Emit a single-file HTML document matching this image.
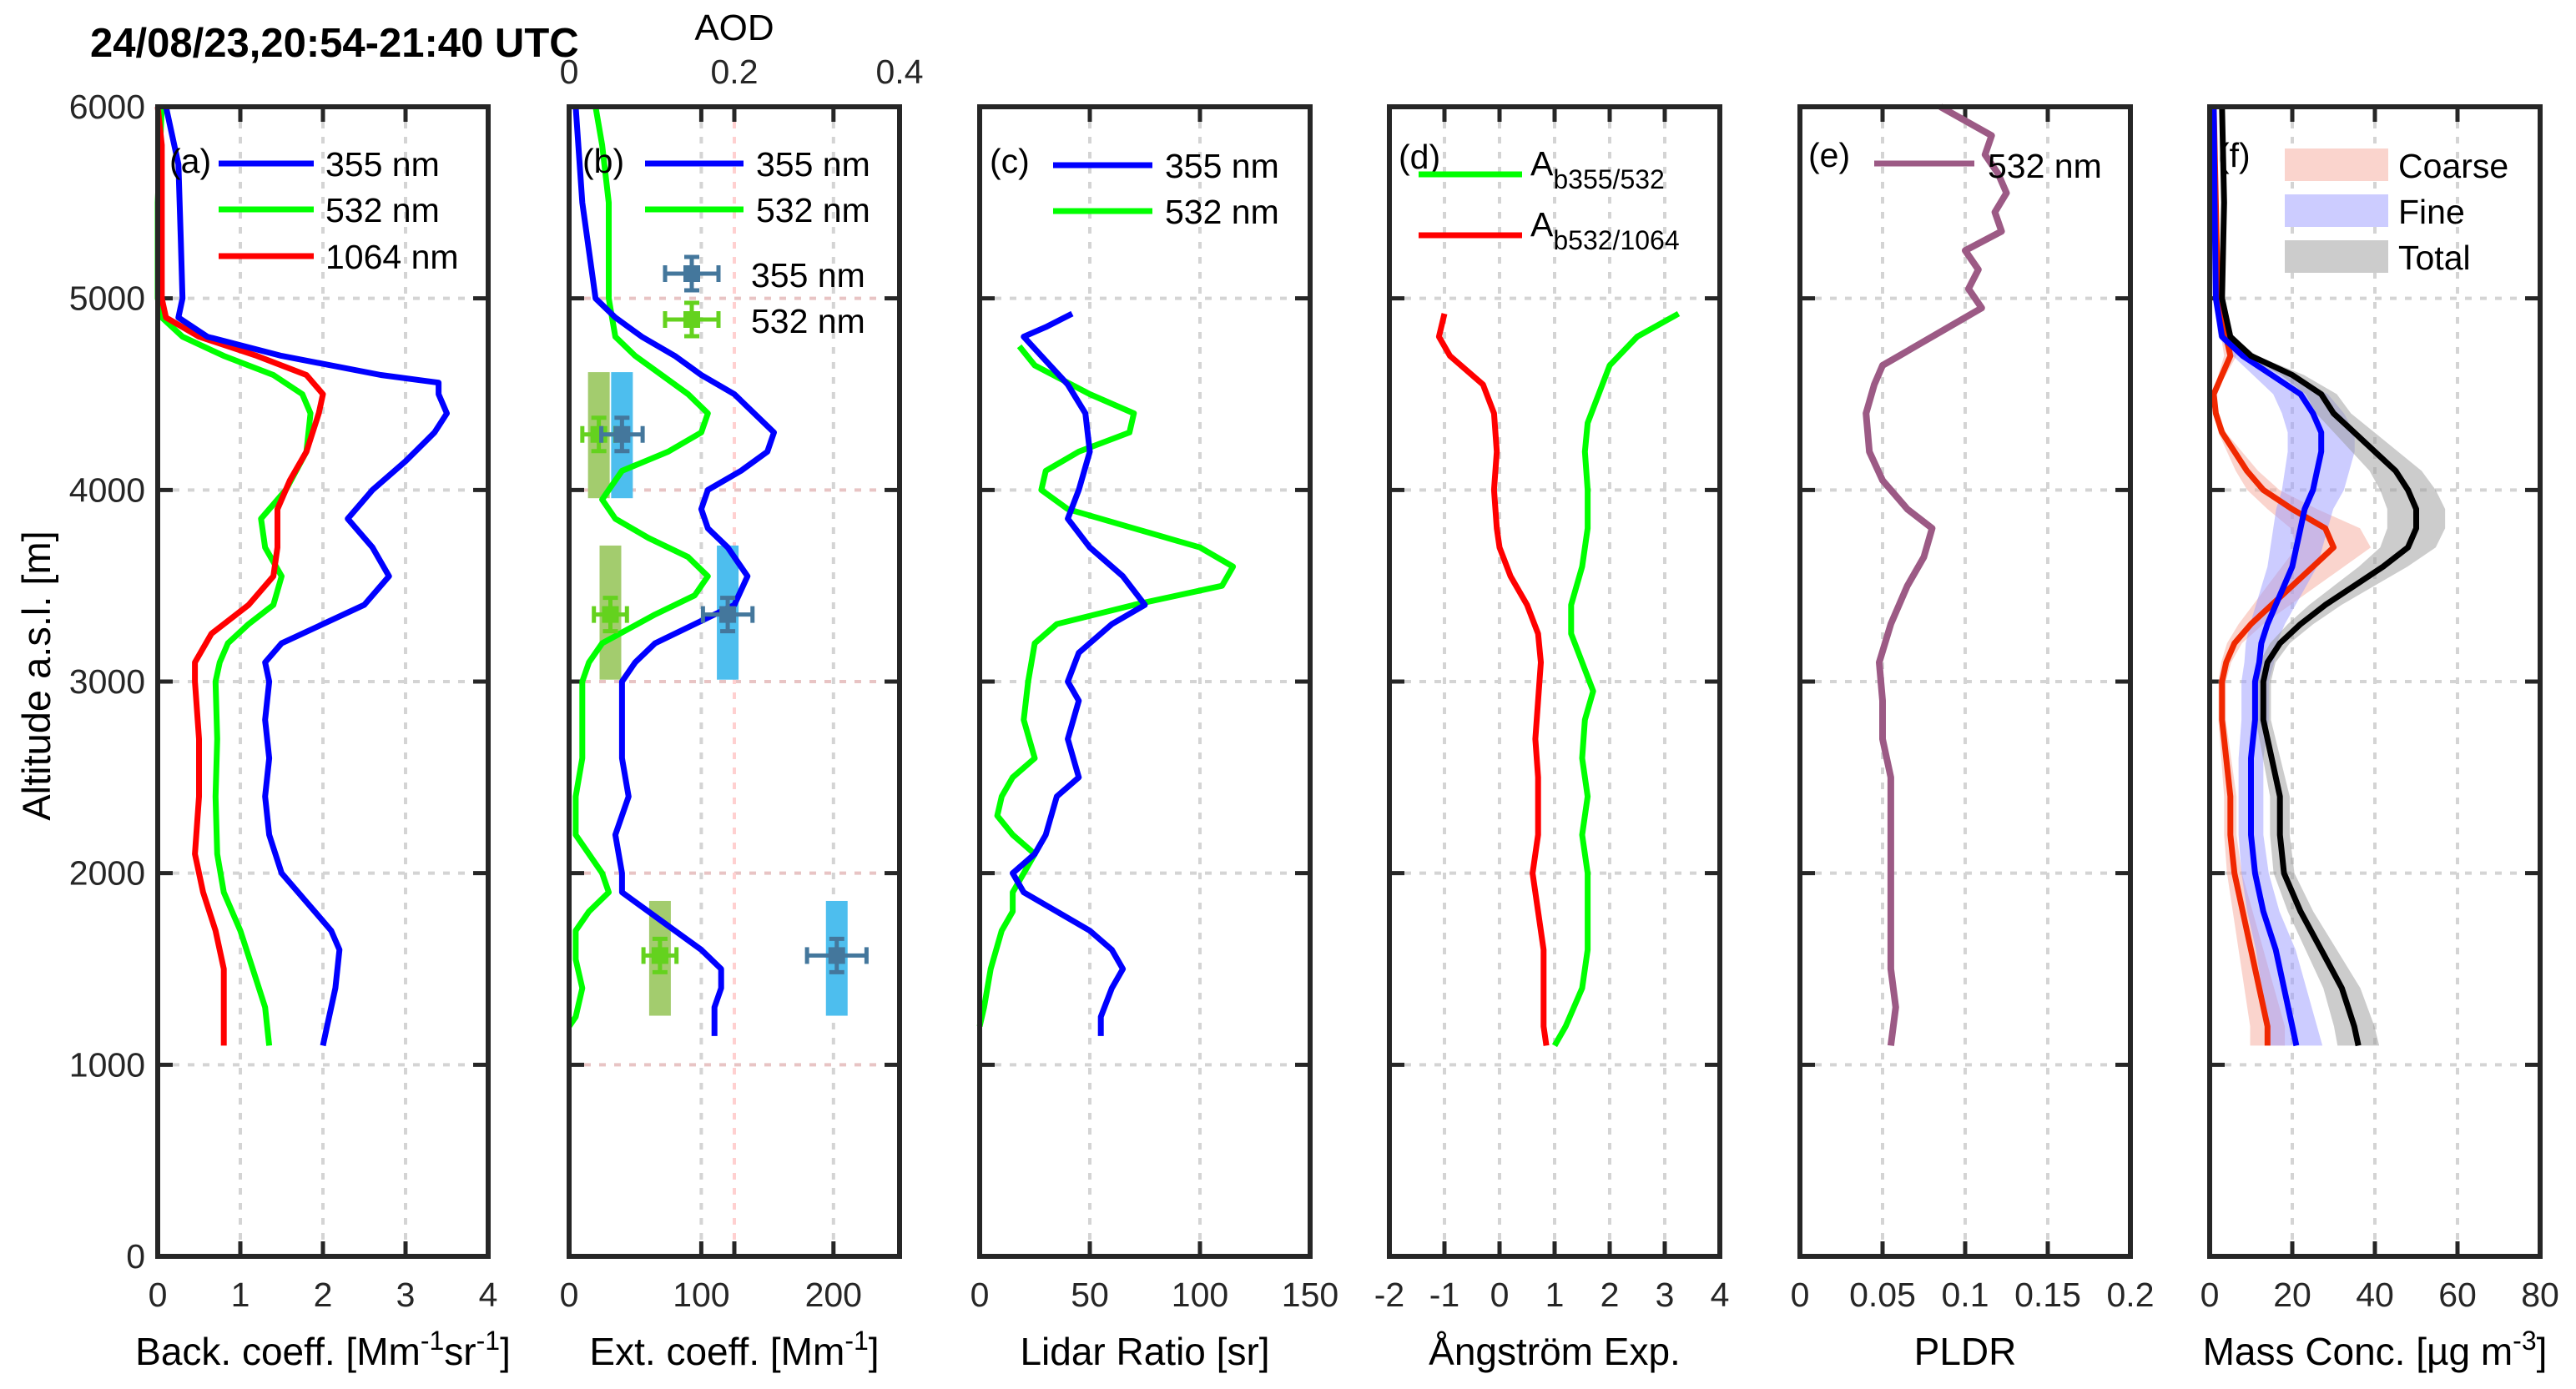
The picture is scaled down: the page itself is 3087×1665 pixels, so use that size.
<!DOCTYPE html>
<html><head><meta charset="utf-8"><style>
html,body{margin:0;padding:0;background:#fff}
svg{display:block;font-family:"Liberation Sans",Arial,sans-serif}
</style></head><body>
<svg id="fig" width="3087" height="1665" viewBox="0 0 3087 1665" xmlns="http://www.w3.org/2000/svg">
<text x="108" y="68" font-size="49" font-weight="bold">24/08/23,20:54-21:40 UTC</text>
<text transform="translate(60,810) rotate(-90)" text-anchor="middle" font-size="47">Altitude a.s.l. [m]</text>
</svg>
<script>
// ---------- data ----------
const altTicks=[0,1000,2000,3000,4000,5000,6000];
// (a) backscatter
const bAlt355=[6000,5700,5300,5000,4900,4800,4700,4600,4560,4500,4400,4300,4150,4000,3850,3700,3550,3400,3300,3200,3100,3000,2800,2600,2400,2200,2000,1850,1700,1600,1400,1200,1100];
const b355=[0.1,0.25,0.28,0.3,0.25,0.6,1.5,2.7,3.4,3.4,3.5,3.35,3.0,2.6,2.3,2.6,2.8,2.5,2.0,1.5,1.3,1.35,1.3,1.35,1.3,1.35,1.5,1.8,2.1,2.2,2.15,2.05,2.0];
const bAlt532=[6000,5500,5000,4900,4800,4700,4600,4500,4400,4200,4000,3850,3700,3550,3400,3300,3200,3100,3000,2700,2400,2100,1900,1700,1500,1300,1100];
const b532=[0.05,0.0,0.0,0.05,0.3,0.8,1.4,1.75,1.85,1.8,1.55,1.25,1.3,1.5,1.4,1.1,0.85,0.75,0.7,0.72,0.7,0.72,0.8,1.0,1.15,1.3,1.35];
const bAlt1064=[6000,5800,5500,5000,4900,4800,4700,4600,4500,4400,4200,4050,3900,3700,3550,3400,3250,3100,3000,2700,2400,2100,1900,1700,1500,1300,1100];
const b1064=[0.0,0.05,0.05,0.05,0.1,0.5,1.2,1.8,2.0,1.95,1.8,1.6,1.45,1.45,1.4,1.1,0.65,0.45,0.45,0.5,0.5,0.45,0.55,0.7,0.8,0.8,0.8];
// (b) extinction
const eAlt355=[6000,5500,5000,4900,4800,4700,4600,4500,4400,4300,4200,4100,4000,3900,3800,3700,3550,3400,3300,3200,3100,3000,2800,2600,2400,2200,2000,1900,1800,1700,1600,1500,1400,1300,1150];
const e355=[5,10,20,35,55,80,100,125,140,155,150,130,105,100,105,120,135,125,95,65,50,40,40,40,45,35,40,40,60,80,100,115,115,110,110];
const eAlt532=[6000,5800,5500,5200,5000,4800,4700,4600,4500,4400,4300,4200,4100,4000,3950,3850,3750,3650,3550,3450,3350,3200,3100,3000,2800,2600,2400,2200,2000,1900,1800,1700,1550,1400,1250,1200];
const e532=[20,25,30,30,30,35,50,70,90,105,100,75,40,30,25,35,60,90,105,95,65,25,15,10,10,10,5,5,25,30,15,5,5,10,5,0];
// AOD layers
const layerTop=[4615,3710,1855];
const layerBottom=[3957,3010,1256];
const layerMid=[4290,3350,1570];
const aod355=[0.064,0.192,0.324];
const aod532=[0.036,0.05,0.11];
const aodErr355=[0.025,0.03,0.036];
const aodErr532=[0.02,0.02,0.02];
// (c) lidar ratio
const lAlt355=[4920,4850,4800,4700,4550,4400,4200,4000,3850,3700,3550,3400,3300,3150,3000,2900,2700,2500,2400,2200,2100,2000,1900,1800,1700,1600,1500,1400,1250,1150];
const l355=[42,30,20,28,40,48,50,45,40,50,65,75,60,45,40,45,40,45,35,30,25,15,20,35,50,60,65,60,55,55];
const lAlt532=[4750,4650,4500,4400,4300,4200,4100,4000,3900,3800,3700,3600,3500,3400,3300,3200,3000,2800,2600,2500,2400,2300,2200,2100,2000,1900,1800,1700,1500,1300,1200];
const l532=[18,25,50,70,68,45,30,28,40,70,100,115,110,70,35,25,22,20,25,15,10,8,15,25,20,15,15,10,5,2,0];
// (d) Angstrom
const aAltR=[4920,4800,4700,4550,4400,4200,4000,3800,3700,3550,3400,3250,3100,2900,2700,2500,2200,2000,1800,1600,1400,1200,1100];
const aRed=[-1.0,-1.1,-0.9,-0.3,-0.1,-0.05,-0.1,-0.05,0.0,0.2,0.5,0.7,0.75,0.7,0.65,0.7,0.7,0.6,0.7,0.8,0.8,0.8,0.85];
const aAltG=[4920,4800,4650,4500,4350,4200,4000,3800,3600,3400,3250,3100,2950,2800,2600,2400,2200,2000,1800,1600,1400,1200,1100];
const aGreen=[3.25,2.5,2.0,1.8,1.6,1.55,1.6,1.6,1.5,1.3,1.3,1.5,1.7,1.55,1.5,1.6,1.5,1.6,1.6,1.6,1.5,1.2,1.0];
// (e) PLDR
const pAlt=[6000,5850,5750,5650,5550,5450,5350,5250,5150,5050,4950,4850,4750,4650,4550,4400,4200,4050,3900,3800,3650,3500,3300,3100,2900,2700,2500,2300,2000,1800,1500,1300,1100];
const pldr=[0.085,0.116,0.112,0.12,0.125,0.118,0.122,0.1,0.108,0.102,0.11,0.09,0.07,0.05,0.045,0.04,0.042,0.05,0.065,0.08,0.075,0.065,0.055,0.048,0.05,0.05,0.055,0.055,0.055,0.055,0.055,0.058,0.055];
// (f) mass concentration
const mAlt=[6000,5500,5000,4800,4700,4600,4500,4400,4300,4200,4100,4000,3900,3800,3700,3600,3500,3400,3300,3200,3100,3000,2800,2600,2400,2200,2000,1800,1600,1400,1200,1100];
const mTotal=[3,3.5,3,5,10,20,27,30,35,40,45,48,50,50,48,42,35,28,22,17,14,13,13,15,17,17,18,22,27,32,35,36];
const mFine=[1,1.2,1.5,3,8,15,22,25,27,27,26,25,23,22,21,20,18,16,14,12.5,12,11,11,10,10,10,11,13,16,18,20,21];
const mCoarse=[1,1.5,2,4,5,3,1,1.5,3,6,9,13,20,28,30,25,20,15,10,6,4,3,3,4,5,5,6,8,10,12,14,14];
const relErrTotal=[0.14];
const relErrFine=[0.3];
const relErrCoarse=[0.3];

// ---------- drawing ----------
const NS='http://www.w3.org/2000/svg';
const svg=document.getElementById('fig');
const TOP=128,BOT=1506,W=396;
const FS=41;
function el(tag,attrs,parent){const e=document.createElementNS(NS,tag);for(const k in attrs)e.setAttribute(k,attrs[k]);(parent||svg).appendChild(e);return e;}
const yS=a=>BOT-(a/6000)*(BOT-TOP);

function makePanel(x0,xmin,xmax,ticks,tickLabels,name,gridColor){
  const g=el('g',{});
  
  
  const xs=v=>x0+(v-xmin)/(xmax-xmin)*W;
  ticks.forEach(t=>{if(t>xmin&&t<xmax){const l=el('line',{x1:xs(t),x2:xs(t),y1:TOP,y2:BOT,stroke:'#d4d4d4','stroke-width':4,'stroke-dasharray':'8 10'},g);
    }});
  altTicks.forEach(a=>{if(a>0&&a<6000){const l=el('line',{x1:x0,x2:x0+W,y1:yS(a),y2:yS(a),stroke:gridColor||'#d4d4d4','stroke-width':4,'stroke-dasharray':'8 10'},g);
    }});
  ticks.forEach((t,i)=>{
    if(t>xmin&&t<xmax){el('line',{x1:xs(t),x2:xs(t),y1:BOT,y2:BOT-18,stroke:'#262626','stroke-width':5},g);el('line',{x1:xs(t),x2:xs(t),y1:TOP,y2:TOP+18,stroke:'#262626','stroke-width':5},g);}
    const tl=el('text',{x:xs(t),y:1566,'font-size':FS,'text-anchor':'middle',fill:'#262626'},g);tl.textContent=tickLabels[i];
    
  });
  altTicks.forEach(a=>{if(a>0&&a<6000){el('line',{x1:x0,x2:x0+18,y1:yS(a),y2:yS(a),stroke:'#262626','stroke-width':5},g);el('line',{x1:x0+W,x2:x0+W-18,y1:yS(a),y2:yS(a),stroke:'#262626','stroke-width':5},g);}});
  return {g,xs,x0,close(){const r=el('rect',{x:x0,y:TOP,width:W,height:BOT-TOP,fill:'none',stroke:'#262626','stroke-width':6},g);}};
}
function line(p,alts,vals,color,name,w){
  const d=alts.map((a,i)=>(i?'L':'M')+p.xs(vals[i]).toFixed(1)+','+yS(a).toFixed(1)).join('');
  const e=el('path',{d,fill:'none',stroke:color,'stroke-width':w||7,'stroke-linejoin':'round'},p.g);
  return e;
}
function band(p,alts,vals,rel,color,name){
  const a=alts.map((al,i)=>p.xs(vals[i]*(1-rel))+','+yS(al));
  const b=alts.map((al,i)=>p.xs(vals[i]*(1+rel))+','+yS(al)).reverse();
  const e=el('polygon',{points:a.concat(b).join(' '),fill:color,'fill-opacity':0.5,stroke:'none'},p.g);
  
}
function txt(p,x,y,s,size,name,anchor){const t=el('text',{x,y,'font-size':size||FS,'text-anchor':anchor||'start'},p.g);t.textContent=s;return t;}
function legLine(p,x1,x2,y,color,name){const e=el('line',{x1,x2,y1:y,y2:y,stroke:color,'stroke-width':7},p.g);}
function xlabel(p,parts,name){const t=el('text',{x:p.x0+W/2,y:1636,'font-size':46,'text-anchor':'middle'},p.g);
  parts.forEach(pt=>{const s=el('tspan',{},t);s.textContent=pt[0];if(pt[1]==='sup'){s.setAttribute('baseline-shift','super');s.setAttribute('font-size','32');}});}

altTicks.forEach(a=>{const t=el('text',{x:174,y:yS(a)+14,'font-size':FS,'text-anchor':'end',fill:'#262626'});t.textContent=a;});

const X=[189,682,1174,1665,2157,2648];
// (a)
const pa=makePanel(X[0],0,4,[0,1,2,3,4],['0','1','2','3','4'],'panel-a-backscatter');
line(pa,bAlt532,b532,'#00ff00','backscatter-532');
line(pa,bAlt1064,b1064,'#ff0000','backscatter-1064');
line(pa,bAlt355,b355,'#0000ff','backscatter-355');
txt(pa,203,207,'(a)',FS,'panel-label-a');
legLine(pa,262,376,196,'#0000ff','legend-line-355');txt(pa,390,211,'355 nm',FS,'legend-text-355');
legLine(pa,262,376,251,'#00ff00','legend-line-532');txt(pa,390,266,'532 nm',FS,'legend-text-532');
legLine(pa,262,376,307,'#ff0000','legend-line-1064');txt(pa,390,322,'1064 nm',FS,'legend-text-1064');
xlabel(pa,[['Back. coeff. [Mm'],['-1','sup'],['sr'],['-1','sup'],[']']],'x-axis-title-a');
pa.close();

// (b)
const pb=makePanel(X[1],0,250,[0,100,200],['0','100','200'],'panel-b-extinction','#e8c4c4');
const aodX=v=>X[1]+v/0.4*W;
[0.2].forEach(v=>{el('line',{x1:aodX(v),x2:aodX(v),y1:TOP,y2:BOT,stroke:'#ffd0d0','stroke-width':4,'stroke-dasharray':'8 10'},pb.g);
  el('line',{x1:aodX(v),x2:aodX(v),y1:TOP,y2:TOP+18,stroke:'#262626','stroke-width':5},pb.g);el('line',{x1:aodX(v),x2:aodX(v),y1:BOT,y2:BOT-18,stroke:'#262626','stroke-width':5},pb.g);});
[0,0.2,0.4].forEach(v=>{const t=el('text',{x:aodX(v),y:100,'font-size':FS,'text-anchor':'middle',fill:'#262626'},pb.g);t.textContent=String(v);});
const aodT=el('text',{x:aodX(0.2),y:48,'font-size':44,'text-anchor':'middle'},pb.g);aodT.textContent='AOD';
layerMid.forEach((m,i)=>{
  const g1=el('rect',{x:aodX(aod532[i])-13,y:yS(layerTop[i]),width:26,height:yS(layerBottom[i])-yS(layerTop[i]),fill:'#a3cc6e'},pb.g);
  
  const b1=el('rect',{x:aodX(aod355[i])-13,y:yS(layerTop[i]),width:26,height:yS(layerBottom[i])-yS(layerTop[i]),fill:'#4dbeee'},pb.g);
  
});
line(pb,eAlt532,e532,'#00ff00','extinction-532');
line(pb,eAlt355,e355,'#0000ff','extinction-355');
function errMark(cx,cy,ex,color,name){const g=el('g',{},pb.g);
  el('line',{x1:cx-ex,x2:cx+ex,y1:cy,y2:cy,stroke:color,'stroke-width':5},g);
  el('line',{x1:cx-ex,x2:cx-ex,y1:cy-10,y2:cy+10,stroke:color,'stroke-width':5},g);
  el('line',{x1:cx+ex,x2:cx+ex,y1:cy-10,y2:cy+10,stroke:color,'stroke-width':5},g);
  el('line',{x1:cx,x2:cx,y1:cy-20,y2:cy+20,stroke:color,'stroke-width':5},g);
  el('line',{x1:cx-9,x2:cx+9,y1:cy-20,y2:cy-20,stroke:color,'stroke-width':5},g);
  el('line',{x1:cx-9,x2:cx+9,y1:cy+20,y2:cy+20,stroke:color,'stroke-width':5},g);
  el('rect',{x:cx-10,y:cy-10,width:20,height:20,fill:color},g);}
layerMid.forEach((m,i)=>{
  errMark(aodX(aod532[i]),yS(m),aodErr532[i]/0.4*W,'#64d21e','aod-532-marker');
  errMark(aodX(aod355[i]),yS(m),aodErr355[i]/0.4*W,'#44779c','aod-355-marker');
});
txt(pb,698,207,'(b)',FS,'panel-label-b');
legLine(pb,773,891,196,'#0000ff','legend-line-355');txt(pb,906,211,'355 nm',FS,'legend-text-355');
legLine(pb,773,891,251,'#00ff00','legend-line-532');txt(pb,906,266,'532 nm',FS,'legend-text-532');
errMark(829,328,32,'#44779c','legend-aod-355-marker');txt(pb,900,344,'355 nm',FS,'legend-text-aod-355');
errMark(829,383,32,'#64d21e','legend-aod-532-marker');txt(pb,900,399,'532 nm',FS,'legend-text-aod-532');
xlabel(pb,[['Ext. coeff. [Mm'],['-1','sup'],[']']],'x-axis-title-b');
pb.close();

// (c)
const pc=makePanel(X[2],0,150,[0,50,100,150],['0','50','100','150'],'panel-c-lidar-ratio');
line(pc,lAlt532,l532,'#00ff00','lidar-ratio-532');
line(pc,lAlt355,l355,'#0000ff','lidar-ratio-355');
txt(pc,1186,207,'(c)',FS,'panel-label-c');
legLine(pc,1262,1381,198,'#0000ff','legend-line-355');txt(pc,1396,213,'355 nm',FS,'legend-text-355');
legLine(pc,1262,1381,253,'#00ff00','legend-line-532');txt(pc,1396,268,'532 nm',FS,'legend-text-532');
xlabel(pc,[['Lidar Ratio [sr]']],'x-axis-title-c');
pc.close();

// (d)
const pd=makePanel(X[3],-2,4,[-2,-1,0,1,2,3,4],['-2','-1','0','1','2','3','4'],'panel-d-angstrom');
line(pd,aAltR,aRed,'#ff0000','angstrom-532-1064');
line(pd,aAltG,aGreen,'#00ff00','angstrom-355-532');
txt(pd,1676,202,'(d)',FS,'panel-label-d');
legLine(pd,1700,1824,209,'#00ff00','legend-line-355-532');
const t1=txt(pd,1834,210,'A',FS,'legend-text-355-532');const s1=el('tspan',{dy:16,'font-size':32},t1);s1.textContent='b355/532';
legLine(pd,1700,1824,282,'#ff0000','legend-line-532-1064');
const t2=txt(pd,1834,283,'A',FS,'legend-text-532-1064');const s2=el('tspan',{dy:16,'font-size':32},t2);s2.textContent='b532/1064';
xlabel(pd,[['Ångström Exp.']],'x-axis-title-d');
pd.close();

// (e)
const pe=makePanel(X[4],0,0.2,[0,0.05,0.1,0.15,0.2],['0','0.05','0.1','0.15','0.2'],'panel-e-pldr');
line(pe,pAlt,pldr,'#9c5a85','pldr-532',8);
txt(pe,2167,200,'(e)',FS,'panel-label-e');
legLine(pe,2246,2366,196,'#9c5a85','legend-line-pldr');txt(pe,2382,213,'532 nm',FS,'legend-text-pldr');
xlabel(pe,[['PLDR']],'x-axis-title-e');
pe.close();

// (f)
const pf=makePanel(X[5],0,80,[0,20,40,60,80],['0','20','40','60','80'],'panel-f-mass');
band(pf,mAlt,mCoarse,relErrCoarse[0],'#f5aa9b','coarse-band');
band(pf,mAlt,mFine,relErrFine[0],'#9999ff','fine-band');
band(pf,mAlt,mTotal,relErrTotal[0],'#999999','total-band');
line(pf,mAlt,mCoarse,'#f02800','coarse-line');
line(pf,mAlt,mFine,'#0000ff','fine-line');
line(pf,mAlt,mTotal,'#000000','total-line');
txt(pf,2658,200,'(f)',FS,'panel-label-f');
[['Coarse','#fad4cd'],['Fine','#ccccff'],['Total','#cccccc']].forEach((c,i)=>{
  const r=el('rect',{x:2738,y:178+i*55,width:124,height:39,fill:c[1]},pf.g);
  txt(pf,2874,213+i*55,c[0],FS,'legend-text-'+c[0].toLowerCase());
});
xlabel(pf,[['Mass Conc. [µg m'],['-3','sup'],[']']],'x-axis-title-f');
pf.close();
</script>
</body></html>
